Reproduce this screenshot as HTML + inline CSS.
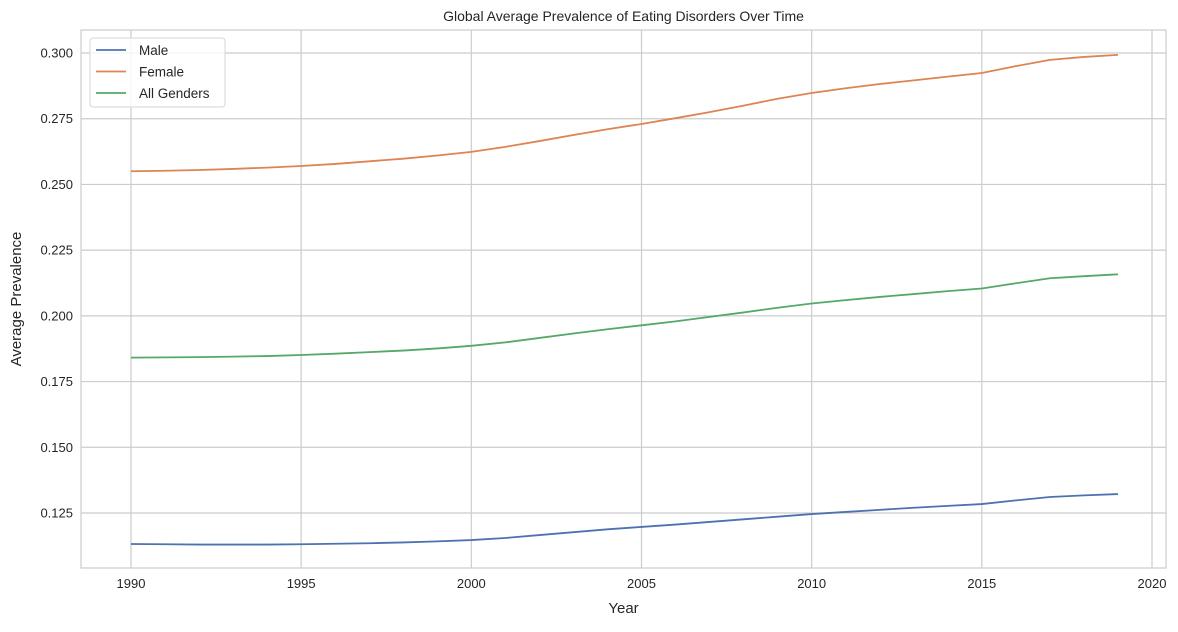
<!DOCTYPE html>
<html><head><meta charset="utf-8"><style>
body{margin:0;background:#fff;font-family:"Liberation Sans",sans-serif}
</style></head><body>
<svg id="c" width="1178" height="627" style="font-family:'Liberation Sans',sans-serif"></svg>
<script>
const years=[1990,1991,1992,1993,1994,1995,1996,1997,1998,1999,2000,2001,2002,2003,2004,2005,2006,2007,2008,2009,2010,2011,2012,2013,2014,2015,2016,2017,2018,2019];
const male=[0.1132,0.1131,0.1130,0.1130,0.1130,0.1131,0.1133,0.1135,0.1138,0.1142,0.1147,0.1155,0.1166,0.1177,0.1188,0.1197,0.1206,0.1216,0.1226,0.1236,0.1246,0.1254,0.1262,0.1270,0.1277,0.1284,0.1298,0.1311,0.1317,0.1322];
const female=[0.2550,0.2552,0.2555,0.2559,0.2564,0.2570,0.2578,0.2588,0.2598,0.2610,0.2624,0.2643,0.2665,0.2688,0.2710,0.2730,0.2752,0.2775,0.2800,0.2826,0.2848,0.2866,0.2882,0.2896,0.2910,0.2924,0.2950,0.2974,0.2985,0.2993];
const allg=[0.1841,0.1842,0.1843,0.1845,0.1847,0.1851,0.1856,0.1862,0.1868,0.1876,0.1886,0.1899,0.1916,0.1933,0.1949,0.1964,0.1979,0.1996,0.2013,0.2031,0.2047,0.2060,0.2072,0.2083,0.2094,0.2104,0.2124,0.2143,0.2151,0.2158];
const xTicks=[1990,1995,2000,2005,2010,2015,2020];
const yTicks=[0.125,0.150,0.175,0.200,0.225,0.250,0.275,0.300];
const L=81,R=1166,T=30,B=568;
const X=v=>131+(v-1990)*(1152-131)/30;
const Y=v=>513-(v-0.125)/0.025*65.714;
const svg=document.getElementById('c');const NS='http://www.w3.org/2000/svg';
function mk(t,a,p){const e=document.createElementNS(NS,t);for(const k in a)e.setAttribute(k,a[k]);(p||svg).appendChild(e);return e;}
const g=mk('g',{});


xTicks.forEach(t=>{mk('line',{x1:X(t),x2:X(t),y1:T,y2:B,stroke:'#cccccc','stroke-width':1.2},g);
const tx=mk('text',{x:X(t),y:B+20,'text-anchor':'middle','font-size':13,fill:'#262626'});tx.textContent=t;

});
yTicks.forEach(t=>{mk('line',{x1:L,x2:R,y1:Y(t),y2:Y(t),stroke:'#cccccc','stroke-width':1.2},g);
const tx=mk('text',{x:L-8,y:Y(t)+4.5,'text-anchor':'end','font-size':13,fill:'#262626'});tx.textContent=t.toFixed(3);

});
const fr=mk('rect',{x:L,y:T,width:R-L,height:B-T,fill:'none',stroke:'#cccccc','stroke-width':1.2});


const series=[[male,'#4c72b0','male-line'],[female,'#dd8452','female-line'],[allg,'#55a868','all-genders-line']];
series.forEach(s=>{const p=mk('path',{d:s[0].map((v,i)=>(i?'L':'M')+X(years[i])+','+Y(v)).join(''),fill:'none',stroke:s[1],'stroke-width':1.8});

});
const ti=mk('text',{x:(L+R)/2,y:21,'text-anchor':'middle','font-size':14,fill:'#262626'});ti.textContent='Global Average Prevalence of Eating Disorders Over Time';


const xl=mk('text',{x:(L+R)/2,y:613,'text-anchor':'middle','font-size':15,fill:'#262626'});xl.textContent='Year';


const yl=mk('text',{x:21,y:(T+B)/2,'text-anchor':'middle','font-size':15,fill:'#262626',transform:'rotate(-90 21 '+(T+B)/2+')'});yl.textContent='Average Prevalence';


const lg=mk('g',{});


mk('rect',{x:90,y:38,width:135,height:69,rx:3,fill:'#fff','fill-opacity':0.8,stroke:'#d6d6d6'},lg);
[['Male','#4c72b0'],['Female','#dd8452'],['All Genders','#55a868']].forEach((e,i)=>{const yy=50+i*21.5;
const ln=mk('line',{x1:96,x2:126,y1:yy,y2:yy,stroke:e[1],'stroke-width':1.8},lg);


const t=mk('text',{x:139,y:yy+5,'font-size':13.5,fill:'#262626'},lg);t.textContent=e[0];

});
</script>
</body></html>
